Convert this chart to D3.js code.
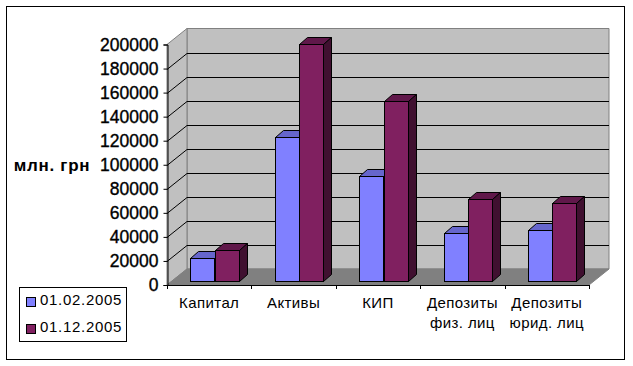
<!DOCTYPE html>
<html>
<head>
<meta charset="utf-8">
<script src="https://cdn.jsdelivr.net/npm/d3@7/dist/d3.min.js"></script>
<style>
html, body { margin: 0; padding: 0; background: #fff; }
svg { display: block; }
text { font-family: "Liberation Sans", Arial, sans-serif; fill: #000; }
</style>
</head>
<body>
<svg width="633" height="366"></svg>
<script>
// **** Data ****
var categories = [['Капитал'], ['Активы'], ['КИП'], ['Депозиты', 'физ. лиц'], ['Депозиты', 'юрид. лиц']];
var seriesNames = ['01.02.2005', '01.12.2005'];
var feb2005 = [18900, 119500, 87000, 39600, 42000];
var dec2005 = [26000, 196700, 149400, 67900, 64500];
var yTicks = [0, 20000, 40000, 60000, 80000, 100000, 120000, 140000, 160000, 180000, 200000];
var yLabel = 'млн. грн';

// face colours: front, top, side
var faces = [['#8080ff', '#6666cc', '#404080'], ['#802060', '#60184a', '#401030']];

// **** Scales ****
var depthX = 20, depthY = 16;       // wall depth
var barDepthX = 8, barDepthY = 7;   // bar depth
var barOffX = 6, barOffY = 4;       // bars stand a little way back on the floor

var yScale = d3.scaleLinear().domain([0, 200000]).range([285, 44.5]);
var xScale = d3.scaleBand().domain(d3.range(5)).range([167, 589]);
var groupWidth = 48.6;
var barScale = d3.scaleBand().domain([0, 1]).range([0, groupWidth]);

var svg = d3.select('svg');

// outer frame
svg.append('rect').attr('x', 6.5).attr('y', 6.5).attr('width', 618).attr('height', 353)
    .attr('fill', '#fff').attr('stroke', '#000');

// **** Walls and floor ****
var y0 = yScale(0), yTop = yScale(200000), xL = 167, xR = 589;

function poly(pts, fill, stroke) {
    return svg.append('polygon')
        .attr('points', pts.map(function(p) { return p.join(','); }).join(' '))
        .attr('fill', fill)
        .attr('stroke', stroke || 'none');
}

poly([[xL + depthX, yTop - depthY], [xR + depthX, yTop - depthY], [xR + depthX, y0 - depthY], [xL + depthX, y0 - depthY]], '#c0c0c0', '#808080');
poly([[xL, yTop], [xL + depthX, yTop - depthY], [xL + depthX, y0 - depthY], [xL, y0]], '#c0c0c0', '#808080');
poly([[xL, y0], [xL + depthX, y0 - depthY], [xR + depthX, y0 - depthY], [xR, y0]], '#808080', '#808080');

// gridlines on the side and back walls
yTicks.slice(1, -1).forEach(function(t) {
    var y = Math.round(yScale(t)) + 0.5;
    svg.append('path')
        .attr('d', 'M' + xL + ',' + y + 'L' + (xL + depthX) + ',' + (y - depthY) + 'L' + (xR + depthX) + ',' + (y - depthY))
        .attr('fill', 'none').attr('stroke', '#000');
});

// **** Axes ****
var yAxis = d3.axisLeft(yScale).tickValues(yTicks).tickSize(4).tickFormat(function(d) { return d; });
var gy = svg.append('g').attr('transform', 'translate(167.5,0)').call(yAxis);
gy.select('.domain').attr('stroke', '#000');
gy.selectAll('text')
    .style('font-size', '17.5px')
    .style('stroke', '#000').style('stroke-width', '0.35px')
    .attr('x', -9);

svg.append('text').text(yLabel)
    .attr('x', 52).attr('y', 171).attr('text-anchor', 'middle')
    .style('font-size', '17px').style('font-weight', 'bold').style('letter-spacing', '0.7px');

var tickX = xScale.domain().map(function(i) { return xScale(i); }).concat([xR]);
svg.append('path').attr('d', 'M' + xL + ',285.5H' + xR).attr('stroke', '#000');
svg.selectAll('.xtick').data(tickX).enter().append('line').attr('class', 'xtick')
    .attr('x1', function(d) { return Math.round(d) + 0.5; })
    .attr('x2', function(d) { return Math.round(d) + 0.5; })
    .attr('y1', 285).attr('y2', 289).attr('stroke', '#000');

// category labels
categories.forEach(function(lines, i) {
    lines.forEach(function(line, j) {
        svg.append('text').text(line)
            .attr('x', xScale(i) + xScale.bandwidth() / 2)
            .attr('y', 307.5 + j * 20.5)
            .attr('text-anchor', 'middle')
            .style('font-size', '15px')
            .style('letter-spacing', '0.4px');
    });
});

// **** Bars ****
[feb2005, dec2005].forEach(function(values, s) {
    values.forEach(function(v, i) {
        var x = Math.floor(xScale(i) + (xScale.bandwidth() - groupWidth) / 2 + barOffX + barScale(s)) + 0.5;
        var w = Math.round(barScale.bandwidth());
        var top = Math.round(yScale(v) - barOffY) + 0.5;
        var bottom = Math.round(y0 - barOffY) + 0.5;
        poly([[x, top], [x + barDepthX, top - barDepthY], [x + w + barDepthX, top - barDepthY], [x + w, top]], faces[s][1], '#000');
        poly([[x + w, top], [x + w + barDepthX, top - barDepthY], [x + w + barDepthX, bottom - barDepthY], [x + w, bottom]], faces[s][2], '#000');
        svg.append('rect').attr('x', x).attr('y', top).attr('width', w).attr('height', bottom - top)
            .attr('fill', faces[s][0]).attr('stroke', '#000');
    });
});

// **** Legend ****
svg.append('rect').attr('x', 19.5).attr('y', 287.5).attr('width', 107).attr('height', 54)
    .attr('fill', '#fff').attr('stroke', '#000');
seriesNames.forEach(function(name, s) {
    var y = 297.5 + s * 27;
    svg.append('rect').attr('x', 26.5).attr('y', y).attr('width', 9).attr('height', 9)
        .attr('fill', faces[s][0]).attr('stroke', '#000');
    svg.append('text').text(name)
        .attr('x', 40).attr('y', y + 7.5)
        .style('font-size', '15px').style('letter-spacing', '0.7px');
});
</script>
</body>
</html>
